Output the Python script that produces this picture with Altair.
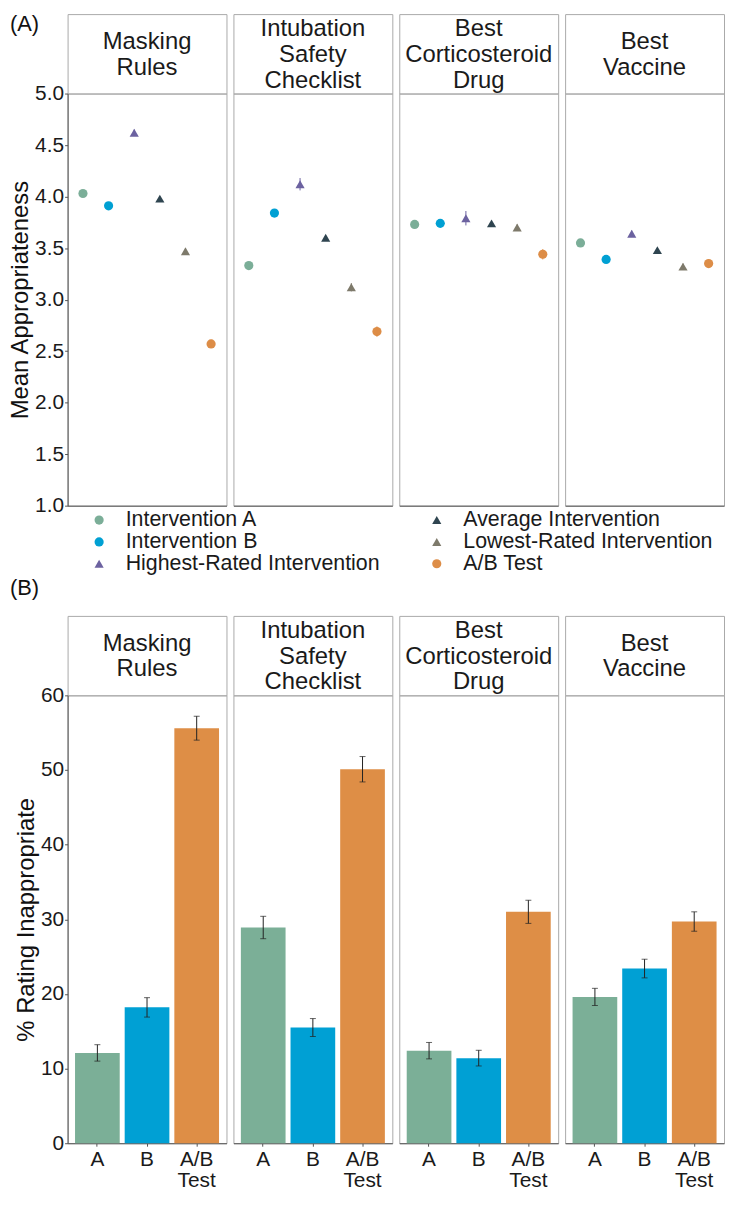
import altair as alt
import pandas as pd

FONT = "Liberation Sans"

# ---------------- data ----------------
panel_labels = ["Masking\nRules", "Intubation\nSafety\nChecklist",
                "Best\nCorticosteroid\nDrug", "Best\nVaccine"]
section_tags = ["(A)", "(B)"]

series = ["Intervention A", "Intervention B", "Highest-Rated Intervention",
          "Average Intervention", "Lowest-Rated Intervention", "A/B Test"]
series_colors = ["#7BAE98", "#00A0D3", "#6C62A0", "#2F4550", "#7E7A6B", "#DD8D47"]
series_shapes = ["circle", "circle", "triangle-up", "triangle-up", "triangle-up", "circle"]
series_sizes = [85, 85, 120, 120, 120, 85]

mean_a = [4.03, 3.33, 3.73, 3.55]
mean_b = [3.91, 3.84, 3.74, 3.39]
mean_high = [4.62, 4.12, 3.79, 3.64]
mean_avg = [3.98, 3.60, 3.74, 3.48]
mean_low = [3.47, 3.12, 3.70, 3.32]
mean_ab = [2.57, 2.69, 3.44, 3.35]

se_a = [0.02, 0.02, 0.02, 0.02]
se_b = [0.02, 0.03, 0.02, 0.02]
se_high = [0.03, 0.06, 0.07, 0.03]
se_avg = [0.02, 0.02, 0.02, 0.02]
se_low = [0.03, 0.04, 0.03, 0.03]
se_ab = [0.04, 0.05, 0.05, 0.04]

conds = ["A", "B", "A/B Test"]
cond_colors = ["#7BAF97", "#00A0D4", "#DE8E46"]
pct_a = [12.1, 28.9, 12.4, 19.6]
pct_b = [18.2, 15.5, 11.4, 23.4]
pct_ab = [55.6, 50.1, 31.0, 29.7]
err_a = [1.1, 1.5, 1.1, 1.15]
err_b = [1.3, 1.2, 1.05, 1.25]
err_ab = [1.6, 1.7, 1.55, 1.3]

# ---------------- sizes ----------------
TOP_W, BOT_W = 160, 160
STRIP_H = 80
TOP_H, BOT_H = 415, 451
LINE_H = 26


def strip(i, width, tag=None, tag_x=0, tag_y=0):
    lines = panel_labels[i].split("\n")
    n = len(lines)
    layers = []
    for k, line in enumerate(lines):
        df = pd.DataFrame({"label": [line]})
        layers.append(alt.Chart(df).mark_text(
            font=FONT, fontSize=24, color="#1a1a1a", align="center", baseline="middle"
        ).encode(text="label:N", x=alt.value(width / 2),
                 y=alt.value(STRIP_H / 2 + 1 + (k - (n - 1) / 2) * LINE_H)))
    if tag is not None:
        tdf = pd.DataFrame({"tag": [tag]})
        layers.append(alt.Chart(tdf).mark_text(
            font=FONT, fontSize=22, color="#111", align="left", baseline="top"
        ).encode(text="tag:N", x=alt.value(tag_x), y=alt.value(tag_y)))
    return alt.layer(*layers).properties(width=width, height=STRIP_H)


LEG = dict(title=None, orient="none", legendX=21, legendY=499,
           columns=2, columnPadding=46, rowPadding=0, clipHeight=21,
           labelFontSize=21.5, labelFont=FONT, labelColor="#1a1a1a",
           symbolSize=50, labelOffset=16, labelLimit=400, symbolStrokeWidth=0)


def top_plot(i):
    means = [mean_a[i], mean_b[i], mean_high[i], mean_avg[i], mean_low[i], mean_ab[i]]
    ses = [se_a[i], se_b[i], se_high[i], se_avg[i], se_low[i], se_ab[i]]
    df = pd.DataFrame({
        "series": series,
        "mean": means,
        "lo": [m - s for m, s in zip(means, ses)],
        "hi": [m + s for m, s in zip(means, ses)],
    })
    x = alt.X("series:N", sort=series,
              scale=alt.Scale(type="point", domain=series, padding=0.6),
              axis=alt.Axis(labels=False, ticks=False, title=None, domain=True))
    if i == 0:
        yaxis = alt.Axis(title="Mean Appropriateness", values=[1, 1.5, 2, 2.5, 3, 3.5, 4, 4.5, 5],
                         format=".1f", titlePadding=2)
    else:
        yaxis = None
    yscale = alt.Scale(domain=[1, 5], nice=False, zero=False)
    color = alt.Color("series:N", scale=alt.Scale(domain=series, range=series_colors),
                      legend=alt.Legend(**LEG))
    shape = alt.Shape("series:N", scale=alt.Scale(domain=series, range=series_shapes),
                      legend=alt.Legend(**LEG))
    size = alt.Size("series:N", scale=alt.Scale(domain=series, range=series_sizes),
                    legend=None)
    pts = alt.Chart(df).mark_point(filled=True, opacity=1).encode(
        x=x, y=alt.Y("mean:Q", scale=yscale, axis=yaxis), color=color, shape=shape, size=size)
    bars = alt.Chart(df).mark_rule(strokeWidth=1).encode(
        x=x, y=alt.Y("lo:Q", scale=yscale), y2="hi:Q", color=color)
    return alt.layer(pts, bars).properties(width=TOP_W, height=TOP_H)


def bot_plot(i):
    vals = [pct_a[i], pct_b[i], pct_ab[i]]
    errs = [err_a[i], err_b[i], err_ab[i]]
    df = pd.DataFrame({
        "cond": conds,
        "pct": vals,
        "lo": [v - e for v, e in zip(vals, errs)],
        "hi": [v + e for v, e in zip(vals, errs)],
    })
    x = alt.X("cond:N", sort=conds,
              scale=alt.Scale(domain=conds, paddingInner=0.1, paddingOuter=0.15),
              axis=alt.Axis(title=None, labelAngle=0, tickSize=3, labelPadding=2,
                            labelLineHeight=22, labelFontSize=21,
                            labelExpr="datum.value == 'A/B Test' ? ['A/B', 'Test'] : datum.value"))
    yscale = alt.Scale(domain=[0, 60], nice=False)
    if i == 0:
        yaxis = alt.Axis(title="% Rating Inappropriate", values=[0, 10, 20, 30, 40, 50, 60],
                         titlePadding=2)
    else:
        yaxis = None
    bar = alt.Chart(df).mark_bar().encode(
        x=x, y=alt.Y("pct:Q", scale=yscale, axis=yaxis),
        color=alt.Color("cond:N", scale=alt.Scale(domain=conds, range=cond_colors), legend=None))
    rule = alt.Chart(df).mark_rule(color="#222", strokeWidth=1).encode(
        x=x, y=alt.Y("lo:Q", scale=yscale), y2="hi:Q")
    cap_lo = alt.Chart(df).mark_tick(color="#222", thickness=1, size=6).encode(
        x=x, y=alt.Y("lo:Q", scale=yscale))
    cap_hi = alt.Chart(df).mark_tick(color="#222", thickness=1, size=6).encode(
        x=x, y=alt.Y("hi:Q", scale=yscale))
    return alt.layer(bar, rule, cap_lo, cap_hi).properties(width=BOT_W, height=BOT_H)


top_cols = []
for i in range(4):
    s = strip(i, TOP_W, tag=section_tags[0] if i == 0 else None, tag_x=-58, tag_y=0)
    top_cols.append(alt.vconcat(s, top_plot(i), spacing=0, bounds="flush"))
top = alt.hconcat(*top_cols, spacing=5).resolve_scale(color="shared", shape="shared", size="shared")

bot_cols = []
for i in range(4):
    s = strip(i, BOT_W, tag=section_tags[1] if i == 0 else None, tag_x=-58, tag_y=-38)
    bot_cols.append(alt.vconcat(s, bot_plot(i), spacing=0, bounds="flush"))
bottom = alt.hconcat(*bot_cols, spacing=5)

chart = alt.concat(top, bottom, columns=1, spacing=2, align="none").resolve_scale(
    x="independent", y="independent", color="independent", shape="independent",
    size="independent"
).properties(padding=0).configure_view(
    stroke="#a9a9a9", strokeWidth=1
).configure_axis(
    labelFont=FONT, titleFont=FONT, labelFontSize=21, titleFontSize=24,
    labelColor="#1a1a1a", titleColor="#111", titleFontWeight="normal",
    domainColor="#555", tickColor="#555", tickSize=3, labelPadding=1, grid=False
)

chart.save("out.html", embed_options={"renderer": "svg", "actions": False})
